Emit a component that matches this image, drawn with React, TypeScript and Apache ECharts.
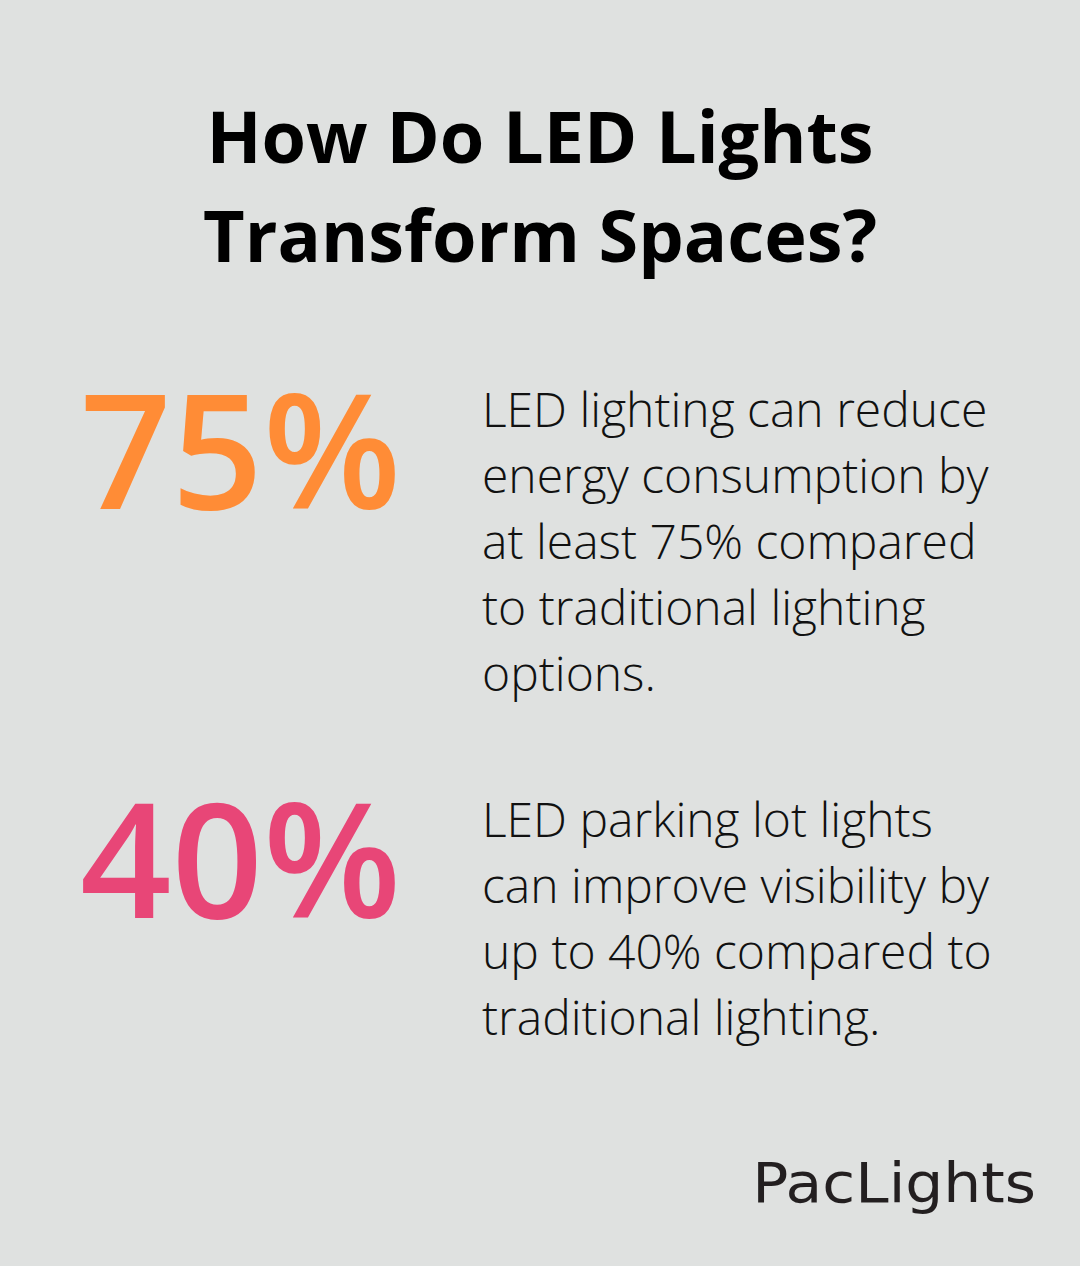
import React, { useEffect, useRef } from "react";
import * as echarts from "echarts";

const titleLines = ["How Do LED Lights", "Transform Spaces?"];
const statValues = [75, 40];
const statColors = ["#FF8C36", "#E84677"];
const statDescriptions = [
  ["LED lighting can reduce", "energy consumption by", "at least 75% compared", "to traditional lighting", "options."],
  ["LED parking lot lights", "can improve visibility by", "up to 40% compared to", "traditional lighting."],
];
const brand = "PacLights";

export default function App() {
  const ref = useRef<HTMLDivElement>(null);
  useEffect(() => {
    if (!ref.current) return;
    const chart = echarts.init(ref.current, undefined, { renderer: "svg" });
    const elements: any[] = [];
    titleLines.forEach((t, i) => {
      elements.push({
        type: "text",
        x: 540,
        y: 135 + i * 99,
        style: {
          text: t,
          fontFamily: "Open Sans",
          fontWeight: 700,
          fontSize: 72,
          fill: "#000000",
          align: "center",
          verticalAlign: "middle",
        },
      });
    });
    const blockTops = [447, 856];
    const bodyStarts = [408, 818];
    statValues.forEach((v, i) => {
      elements.push({
        type: "text",
        x: 80,
        y: blockTops[i],
        style: {
          text: v + "%",
          fontFamily: "Open Sans",
          fontWeight: 600,
          fontSize: 160,
          fill: statColors[i],
          align: "left",
          verticalAlign: "middle",
        },
      });
      statDescriptions[i].forEach((line, j) => {
        elements.push({
          type: "text",
          x: 482,
          y: bodyStarts[i] + j * 66,
          style: {
            text: line,
            fontFamily: "Open Sans",
            fontWeight: 300,
            fontSize: 48,
            fill: "#111111",
            align: "left",
            verticalAlign: "middle",
          },
        });
      });
    });
    elements.push({
      type: "text",
      x: 1036,
      y: 1183,
      scaleX: 1.07,
      style: {
        text: brand,
        fontFamily: "DejaVu Sans",
        fontWeight: 400,
        fontSize: 56,
        fill: "#231f20",
        align: "right",
        verticalAlign: "middle",
      },
    });
    chart.setOption({
      animation: false,
      backgroundColor: "#DFE1E0",
      graphic: { elements },
    });
    return () => chart.dispose();
  }, []);
  return <div ref={ref} style={{ width: 1080, height: 1266, position: "absolute", left: 0, top: 0 }} />;
}
